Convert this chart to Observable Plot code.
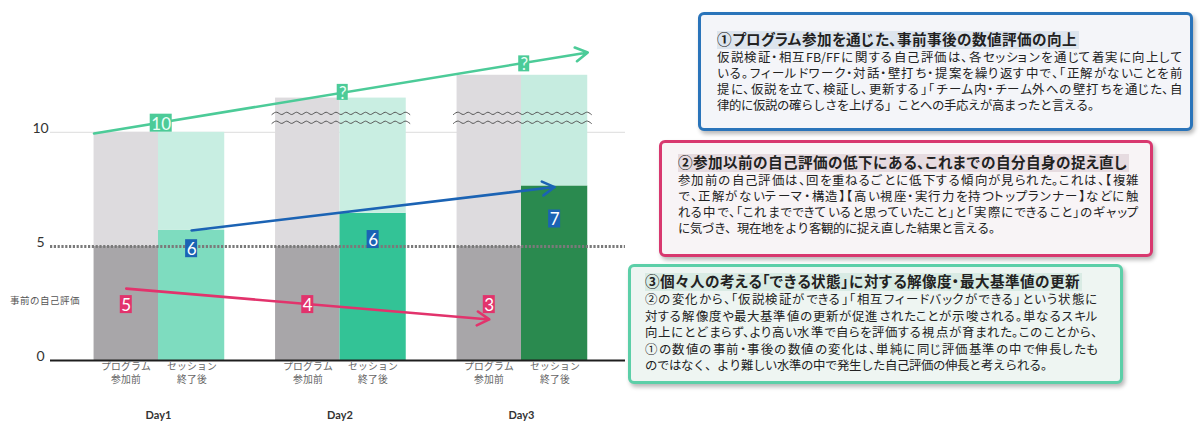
<!DOCTYPE html>
<html><head><meta charset="utf-8">
<script src="https://cdn.jsdelivr.net/npm/d3@7"></script>
<script src="https://cdn.jsdelivr.net/npm/@observablehq/plot@0.6"></script>
<style>
@font-face{font-family:"JPTight";font-weight:400;src:local("Noto Sans CJK JP Regular"),local("NotoSansCJKjp-Regular"),local("Noto Sans CJK JP");ascent-override:88%;descent-override:12%;line-gap-override:0%;}
@font-face{font-family:"JPTight";font-weight:700;src:local("Noto Sans CJK JP Bold"),local("NotoSansCJKjp-Bold");ascent-override:88%;descent-override:12%;line-gap-override:0%;}
body{margin:0;background:#fff;font-family:"JPTight","Noto Sans CJK JP",sans-serif;}
#wrap{position:relative;width:1200px;height:434px;overflow:hidden;background:#fff;}
#chart{position:absolute;left:0;top:0;}
.box{position:absolute;box-sizing:border-box;border:3px solid;border-radius:6px;box-shadow:2px 3px 4px rgba(0,0,0,.28);color:#222;white-space:nowrap;}
.box .t{margin:0;font-size:14.6px;font-weight:700;line-height:18px;display:inline-block;padding:0 2px 0 0;font-feature-settings:"palt";}
.box .l{margin:0;font-size:12.4px;}
.box .j{font-feature-settings:"palt";text-align:justify;text-align-last:justify;text-justify:inter-character;}
</style></head>
<body><div id="wrap"><div id="chart"></div></div>
<script>
// ---- chart data ----
const days = ["Day1", "Day2", "Day3"];
const phaseLabels = ["プログラム\n参加前", "セッション\n終了後"];
const preScore = ["5", "4", "3"];
const postScore = ["6", "6", "7"];
const maxScore = ["10", "?", "?"];
const preBase = [5, 5, 5];
const preTop = [10, 11.5, 12.5];
const postValue = [5.7, 6.45, 7.65];
const postTop = [10, 11.5, 12.5];
const preLabelLevel = [2.45, 2.45, 2.45];
const postLabelLevel = [4.9, 5.3, 6.2];
const maxLabelLevel = [10.4, 11.75, 13.0];
const preTrend = [3.15, 1.8];
const postTrend = [5.7, 7.6];
const maxTrend = [9.95, 13.5];
const yTicks = [0, 5, 10];
const yTitle = "事前の自己評価";

// ---- text boxes ----
const boxTitles = [
  "①プログラム参加を通じた、事前事後の数値評価の向上",
  "②参加以前の自己評価の低下にある、これまでの自分自身の捉え直し",
  "③個々人の考える「できる状態」に対する解像度・最大基準値の更新"
];
const boxLines1 = [
  "仮説検証・相互FB/FFに関する自己評価は、各セッションを通じて着実に向上して",
  "いる。フィールドワーク・対話・壁打ち・提案を繰り返す中で、「正解がないことを前",
  "提に、仮説を立て、検証し、更新する」「チーム内・チーム外への壁打ちを通じた、自",
  "律的に仮説の確らしさを上げる」ことへの手応えが高まったと言える。"
];
const boxLines2 = [
  "参加前の自己評価は、回を重ねるごとに低下する傾向が見られた。これは、【複雑",
  "で、正解がないテーマ・構造】【高い視座・実行力を持つトップランナー】などに触",
  "れる中で、「これまでできていると思っていたこと」と「実際にできること」のギャップ",
  "に気づき、現在地をより客観的に捉え直した結果と言える。"
];
const boxLines3 = [
  "②の変化から、「仮説検証ができる」「相互フィードバックができる」という状態に",
  "対する解像度や最大基準値の更新が促進されたことが示唆される。単なるスキル",
  "向上にとどまらず、より高い水準で自らを評価する視点が育まれた。このことから、",
  "①の数値の事前・事後の数値の変化は、単純に同じ評価基準の中で伸長したも",
  "のではなく、より難しい水準の中で発生した自己評価の伸長と考えられる。"
];

// ---- styles ----
const preDark = "#a8a6a9", preLight = "#dddbde";
const postDark = ["#7edcbf", "#33c396", "#2a8a4f"];
const postLight = ["#c8eee2", "#c9eee2", "#c6ece0"];
const cGreen = "#4ccb98", cBlue = "#1b63b4", cPink = "#e2336c";
const preW = 0.355, postW = 0.365;
const jp = "JPTight, 'Noto Sans CJK JP', sans-serif";

const bars = days.flatMap((d, i) => [
  {x1: i - preW, x2: i, y1: 0, y2: preBase[i], fill: preDark},
  {x1: i - preW, x2: i, y1: preBase[i], y2: preTop[i], fill: preLight},
  {x1: i, x2: i + postW, y1: 0, y2: postValue[i], fill: postDark[i]},
  {x1: i, x2: i + postW, y1: postValue[i], y2: postTop[i], fill: postLight[i]}
]);
const preX = i => i - preW / 2;
const postX = i => i + postW / 2;

const preLabels = days.map((d, i) => ({x: preX(i), y: preLabelLevel[i], t: preScore[i]}));
const postLabels = days.map((d, i) => ({x: postX(i), y: postLabelLevel[i], t: postScore[i]}));
const maxLabels = days.map((d, i) => ({x: i + 0.015, y: maxLabelLevel[i], t: maxScore[i]}));

const arrows = [
  {x1: preX(0), y1: preTrend[0], x2: preX(2), y2: preTrend[1], c: cPink},
  {x1: postX(0), y1: postTrend[0], x2: postX(2), y2: postTrend[1], c: cBlue},
  {x1: -preW, y1: maxTrend[0], x2: 2 + postW, y2: maxTrend[1], c: cGreen}
];

// decorative break marks (squiggles) on Day2 & Day3 bars
const waves = [];
[1, 2].forEach(i => [10.83, 10.44].forEach((lvl, j) => {
  const n = 28, start = i - 0.375, span = 0.76;
  for (let k = 0; k <= n; k++) waves.push({x: start + k * span / n, y: lvl + (k % 2 ? 0.05 : -0.05), z: i + "-" + j});
}));

const ticks = days.flatMap((d, i) => [{x: preX(i), t: phaseLabels[0]}, {x: postX(i), t: phaseLabels[1]}]);

const chart = Plot.plot({
  width: 640, height: 434,
  marginLeft: 50, marginRight: 15, marginTop: 20, marginBottom: 74,
  x: {domain: [-0.595, 2.573], axis: null},
  y: {domain: [0, 14.9], axis: null},
  color: {type: "identity"},
  style: {background: "transparent", fontFamily: jp},
  marks: [
    Plot.ruleY([10], {stroke: "#dcdcdc", strokeWidth: 1}),
    Plot.rect(bars, {x1: "x1", x2: "x2", y1: "y1", y2: "y2", fill: "fill"}),
    Plot.ruleY([5], {stroke: "#7a7a7a", strokeWidth: 3, strokeDasharray: "2.2,1.6"}),
    Plot.ruleY([0], {stroke: "#1e1e1e", strokeWidth: 2}),
    Plot.line(waves, {x: "x", y: "y", z: "z", curve: "natural", stroke: "#555", strokeWidth: 1}),
    Plot.arrow(arrows, {x1: "x1", y1: "y1", x2: "x2", y2: "y2", stroke: "c", strokeWidth: 2.6, headLength: 8}),
    Plot.rect(preLabels, {x1: "x", x2: "x", y1: "y", y2: "y", insetLeft: -6, insetRight: -6, insetTop: -9, insetBottom: -9, fill: cPink}),
    Plot.rect(postLabels, {x1: "x", x2: "x", y1: "y", y2: "y", insetLeft: -6, insetRight: -6, insetTop: -9, insetBottom: -9, fill: cBlue}),
    Plot.rect(maxLabels.slice(0, 1), {x1: "x", x2: "x", y1: "y", y2: "y", insetLeft: -11, insetRight: -11, insetTop: -9, insetBottom: -9, fill: cGreen}),
    Plot.rect(maxLabels.slice(1), {x1: "x", x2: "x", y1: "y", y2: "y", insetLeft: -5.5, insetRight: -5.5, insetTop: -8, insetBottom: -8, fill: cGreen}),
    Plot.text(preLabels.concat(postLabels), {x: "x", y: "y", text: "t", fill: "white", fontSize: 17, fontFamily: "Lato", dy: 1}),
    Plot.text(maxLabels, {x: "x", y: "y", text: "t", fill: "#eafff6", fontSize: 17, fontFamily: "Lato", dy: 1}),
    Plot.text(yTicks.map(v => ({v})), {y: "v", text: d => String(d.v), frameAnchor: "left", dx: -10, dy: -4, textAnchor: "middle", fontSize: 14, fill: "#333", fontFamily: "Lato"}),
    Plot.text([{y: 2.63, t: yTitle}], {y: "y", text: "t", frameAnchor: "left", dx: -41, textAnchor: "start", fontSize: 9.5, fill: "#555"}),
    Plot.text(ticks, {x: "x", text: "t", frameAnchor: "bottom", dy: 22, lineHeight: 1.25, fontSize: 9.8, fill: "#666"}),
    Plot.text(days.map((d, i) => ({x: i, t: d})), {x: "x", text: "t", frameAnchor: "bottom", dy: 58, fontSize: 11, fontWeight: "bold", fill: "#333", fontFamily: "Lato"})
  ]
});
document.getElementById("chart").appendChild(chart);

// ---- text boxes ----
const boxes = [
  {title: boxTitles[0], lines: boxLines1, left: 698, top: 12, w: 495, h: 119, pt: 16, pl: 16, border: "#2a74ba", bg: "#f4f5f9", hl: "#dde5ee", lh: 16, jw: 465},
  {title: boxTitles[1], lines: boxLines2, left: 659, top: 140, w: 494, h: 117, pt: 11, pl: 16, border: "#d8386f", bg: "#f8f4f6", hl: "#e6dbe0", lh: 16, jw: 460},
  {title: boxTitles[2], lines: boxLines3, left: 628, top: 264, w: 495, h: 120, pt: 6, pl: 14, border: "#5ccfa8", bg: "#eef5f2", hl: "#d9ebe4", lh: 16.5, jw: 452}
];
const wrap = document.getElementById("wrap");
boxes.forEach(b => {
  const div = document.createElement("div");
  div.className = "box";
  Object.assign(div.style, {left: b.left + "px", top: b.top + "px", width: b.w + "px", height: b.h + "px",
    paddingTop: b.pt + "px", paddingLeft: b.pl + "px", borderColor: b.border, background: b.bg});
  const t = document.createElement("div");
  t.className = "t"; t.textContent = b.title; t.style.background = b.hl;
  div.appendChild(t);
  b.lines.forEach((s, k) => {
    const p = document.createElement("div");
    p.className = "l"; p.textContent = s; p.style.lineHeight = b.lh + "px";
    if (b.jw && k < b.lines.length - 1) { p.classList.add("j"); p.style.width = b.jw + "px"; }
    div.appendChild(p);
  });
  wrap.appendChild(div);
});
</script>
</body></html>
